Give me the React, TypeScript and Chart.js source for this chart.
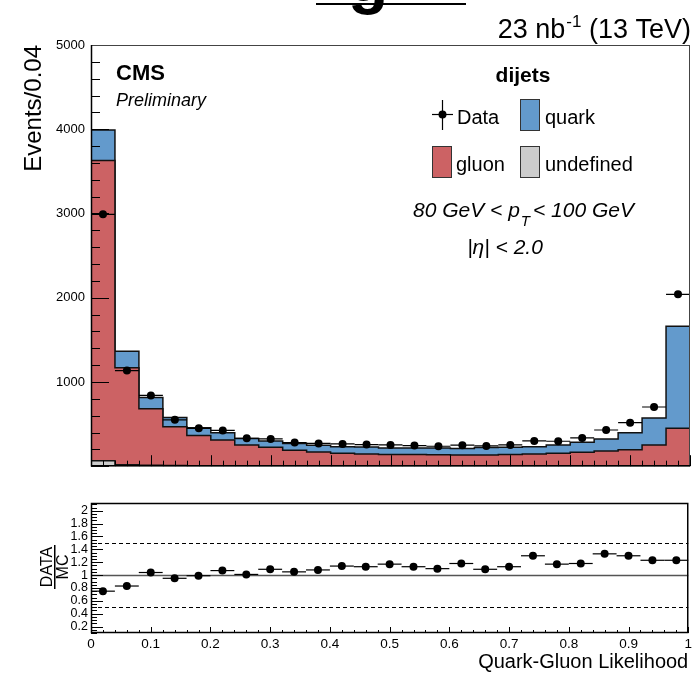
import React, { useEffect, useRef } from "react";
import { Chart, registerables } from "chart.js";
Chart.register(...registerables);

// ---- data ----
const binCenters = [0.02, 0.06, 0.10, 0.14, 0.18, 0.22, 0.26, 0.30, 0.34, 0.38, 0.42, 0.46, 0.50, 0.54, 0.58, 0.62, 0.66, 0.70, 0.74, 0.78, 0.82, 0.86, 0.90, 0.94, 0.98];
const binWidth = 0.04;
const dataCounts = [2990, 1135, 840, 550, 450, 425, 332, 324, 280, 270, 265, 257, 253, 245, 237, 249, 241, 253, 300, 296, 336, 430, 517, 703, 2040];
const undefinedCounts = [65, 18, 10, 8, 6, 5, 5, 4, 4, 4, 3, 3, 3, 3, 3, 3, 3, 3, 3, 3, 3, 3, 3, 3, 3];
const gluonCounts = [3565, 1152, 673, 460, 359, 305, 248, 221, 186, 166, 152, 142, 137, 135, 133, 131, 131, 135, 142, 151, 163, 177, 192, 250, 447];
const quarkCounts = [360, 195, 132, 110, 90, 88, 77, 75, 78, 80, 77, 82, 77, 78, 79, 77, 87, 86, 86, 99, 119, 143, 203, 318, 1210];
const ratioValues = [0.75, 0.83, 1.04, 0.95, 0.99, 1.07, 1.01, 1.09, 1.05, 1.08, 1.14, 1.13, 1.17, 1.13, 1.10, 1.18, 1.09, 1.13, 1.30, 1.17, 1.18, 1.33, 1.30, 1.23, 1.23];
const topYTicks = [1000, 2000, 3000, 4000, 5000];
const ratioYTicks = [0.2, 0.4, 0.6, 0.8, 1, 1.2, 1.4, 1.6, 1.8, 2];
const ratioYLabels = ["0.2", "0.4", "0.6", "0.8", "1", "1.2", "1.4", "1.6", "1.8", "2"];
const xTicks = [0, 0.1, 0.2, 0.3, 0.4, 0.5, 0.6, 0.7, 0.8, 0.9, 1];
const xLabels = ["0", "0.1", "0.2", "0.3", "0.4", "0.5", "0.6", "0.7", "0.8", "0.9", "1"];

const FONT = "'Liberation Sans', Arial, Helvetica, sans-serif";
const RED = "rgb(204,98,100)";
const BLUE = "rgb(99,154,204)";
const GRAY = "rgb(204,204,204)";

function stepPoints(vals: number[]) {
  const pts: { x: number; y: number }[] = [{ x: binCenters[0] - binWidth / 2, y: 0 }];
  vals.forEach((v, i) => {
    pts.push({ x: binCenters[i] - binWidth / 2, y: v });
    pts.push({ x: binCenters[i] + binWidth / 2, y: v });
  });
  pts.push({ x: binCenters[binCenters.length - 1] + binWidth / 2, y: 0 });
  return pts;
}

function drawText(ctx: any, text: string, x: number, y: number, font: string, align: string = "left") {
  ctx.font = font;
  ctx.textAlign = align;
  ctx.textBaseline = "alphabetic";
  ctx.fillStyle = "#000";
  ctx.fillText(text, x, y);
  return ctx.measureText(text).width;
}

export default function App() {
  const topRef = useRef<HTMLCanvasElement>(null);
  const botRef = useRef<HTMLCanvasElement>(null);

  useEffect(() => {
    const stackUnd = undefinedCounts.slice();
    const stackGlu = undefinedCounts.map((u, i) => u + gluonCounts[i]);
    const stackTot = stackGlu.map((g, i) => g + quarkCounts[i]);

    const topDecor = {
      id: "topDecor",
      afterDatasetsDraw(chart: any) {
        const { ctx, chartArea: a, scales } = chart;
        const x = scales.x, y = scales.y;
        ctx.save();
        ctx.beginPath();
        ctx.rect(a.left, a.top, a.right - a.left, a.bottom - a.top);
        ctx.clip();
        ctx.strokeStyle = "#000";
        ctx.lineWidth = 1.2;
        binCenters.forEach((c, i) => {
          const py = y.getPixelForValue(dataCounts[i]);
          ctx.beginPath();
          ctx.moveTo(x.getPixelForValue(c - binWidth / 2), py);
          ctx.lineTo(x.getPixelForValue(c + binWidth / 2), py);
          ctx.stroke();
        });
        ctx.restore();
      },
      afterDraw(chart: any) {
        const { ctx, chartArea: a, scales } = chart;
        const x = scales.x, y = scales.y;
        ctx.save();
        ctx.strokeStyle = "#000";
        ctx.lineWidth = 1;
        // ticks
        for (let k = 0; k <= 25; k++) {
          const py = Math.round(y.getPixelForValue(k * 200)) + 0.5;
          const len = k % 5 === 0 ? 18 : 9;
          ctx.beginPath(); ctx.moveTo(a.left, py); ctx.lineTo(a.left + len, py); ctx.stroke();
        }
        for (let k = 0; k <= 50; k++) {
          const px = Math.round(x.getPixelForValue(k * 0.02)) + 0.5;
          const len = k % 5 === 0 ? 11 : 5.5;
          ctx.beginPath(); ctx.moveTo(px, a.bottom); ctx.lineTo(px, a.bottom - len); ctx.stroke();
        }
        // frame
        ctx.strokeStyle = "#444";
        ctx.strokeRect(a.left + 0.5, a.top + 0.5, a.right - a.left - 1, a.bottom - a.top - 1);
        ctx.strokeStyle = "#000";
        ctx.lineWidth = 1.5;
        ctx.beginPath(); ctx.moveTo(a.left + 0.5, a.top); ctx.lineTo(a.left + 0.5, a.bottom - 0.5); ctx.lineTo(a.right, a.bottom - 0.5); ctx.stroke();

        // cut-off title fragment
        ctx.fillStyle = "#000";
        ctx.fillRect(316, 3, 150, 2);
        drawText(ctx, "g", 348, 1, `bold 66px ${FONT}`);

        // lumi (right aligned at 691)
        ctx.font = `27px ${FONT}`;
        const wa = ctx.measureText("23 nb").width;
        const wc = ctx.measureText(" (13 TeV)").width;
        ctx.font = `17px ${FONT}`;
        const wb = ctx.measureText("-1").width;
        const x0 = 691 - (wa + wb + wc + 1);
        drawText(ctx, "23 nb", x0, 38, `27px ${FONT}`);
        drawText(ctx, "-1", x0 + wa + 1, 27, `17px ${FONT}`);
        drawText(ctx, " (13 TeV)", x0 + wa + wb + 1, 38, `27px ${FONT}`);

        // CMS
        drawText(ctx, "CMS", 116, 80, `bold 22px ${FONT}`);
        drawText(ctx, "Preliminary", 116, 106, `italic 18px ${FONT}`);

        // legend
        drawText(ctx, "dijets", 523, 82, `bold 21px ${FONT}`, "center");
        ctx.strokeStyle = "#000"; ctx.lineWidth = 1.2;
        ctx.beginPath(); ctx.moveTo(432, 114.5); ctx.lineTo(453, 114.5); ctx.stroke();
        ctx.beginPath(); ctx.moveTo(442.5, 100); ctx.lineTo(442.5, 130); ctx.stroke();
        ctx.beginPath(); ctx.arc(442.5, 114.5, 4, 0, Math.PI * 2); ctx.fillStyle = "#000"; ctx.fill();
        drawText(ctx, "Data", 457, 124, `20px ${FONT}`);
        const box = (bx: number, by: number, col: string) => {
          ctx.fillStyle = col;
          ctx.fillRect(bx, by, 20, 32);
          ctx.strokeStyle = "#333"; ctx.lineWidth = 1;
          ctx.strokeRect(bx + 0.5, by + 0.5, 19, 31);
        };
        box(520, 99, BLUE);
        drawText(ctx, "quark", 545, 124, `20px ${FONT}`);
        box(432, 146, RED);
        drawText(ctx, "gluon", 456, 171, `20px ${FONT}`);
        box(520, 146, GRAY);
        drawText(ctx, "undefined", 545, 171, `20px ${FONT}`);

        // cuts
        const wp = drawText(ctx, "80 GeV < p", 413, 217, `italic 21px ${FONT}`);
        const wt = drawText(ctx, "T", 413 + wp + 1, 226, `italic 15px ${FONT}`);
        drawText(ctx, "< 100 GeV", 413 + wp + wt + 4, 217, `italic 21px ${FONT}`);
        drawText(ctx, "|η| < 2.0", 505, 254, `italic 21px ${FONT}`, "center");
        ctx.restore();
      },
    };

    const histLine = (vals: number[], color: string) => ({
      data: stepPoints(vals),
      borderColor: "#111",
      borderWidth: 1.5,
      backgroundColor: color,
      fill: "origin",
      pointRadius: 0,
      tension: 0,
    });

    const top = new Chart(topRef.current as HTMLCanvasElement, {
      type: "line",
      data: {
        datasets: [
          {
            label: "Data",
            data: binCenters.map((c, i) => ({ x: c, y: dataCounts[i] })),
            showLine: false,
            pointRadius: 4,
            pointBackgroundColor: "#000",
            pointBorderColor: "#000",
            pointBorderWidth: 0,
          } as any,
          { label: "undefined", ...histLine(stackUnd, GRAY) },
          { label: "gluon", ...histLine(stackGlu, RED) },
          { label: "quark", ...histLine(stackTot, BLUE) },
        ],
      },
      options: {
        animation: false,
        responsive: false,
        events: [],
        layout: { padding: { left: 0, right: 5, top: 45, bottom: 13 } },
        plugins: { legend: { display: false }, tooltip: { enabled: false } },
        scales: {
          x: { type: "linear", min: 0, max: 1, display: false },
          y: {
            type: "linear",
            min: 0,
            max: 5000,
            afterBuildTicks: (s: any) => { s.ticks = topYTicks.map((v) => ({ value: v })); },
            afterFit: (s: any) => { s.width = 91; },
            grid: { display: false, drawTicks: false },
            border: { display: false },
            ticks: { color: "#000", font: { family: FONT, size: 13 }, padding: 6, autoSkip: false, callback: (v: any) => String(v) },
            title: { display: true, text: "Events/0.04", align: "end", color: "#000", font: { family: FONT, size: 24 }, padding: { top: 20, bottom: 0 } },
          },
        },
      } as any,
      plugins: [topDecor],
    });

    const botDecor = {
      id: "botDecor",
      afterDatasetsDraw(chart: any) {
        const { ctx, scales } = chart;
        const x = scales.x, y = scales.y;
        ctx.save();
        ctx.strokeStyle = "#000";
        ctx.lineWidth = 1.2;
        binCenters.forEach((c, i) => {
          const py = y.getPixelForValue(ratioValues[i]);
          ctx.beginPath();
          ctx.moveTo(x.getPixelForValue(c - binWidth / 2), py);
          ctx.lineTo(x.getPixelForValue(c + binWidth / 2), py);
          ctx.stroke();
        });
        ctx.restore();
      },
      beforeDatasetsDraw(chart: any) {
        const { ctx, chartArea: a, scales } = chart;
        const y = scales.y;
        ctx.save();
        const p1 = Math.round(y.getPixelForValue(1)) + 0.5;
        ctx.strokeStyle = "#555"; ctx.lineWidth = 1.5;
        ctx.beginPath(); ctx.moveTo(a.left, p1); ctx.lineTo(a.right, p1); ctx.stroke();
        ctx.strokeStyle = "#000"; ctx.lineWidth = 1; ctx.setLineDash([4, 3]);
        [1.5, 0.5].forEach((v) => {
          const p = Math.round(y.getPixelForValue(v)) + 0.5;
          ctx.beginPath(); ctx.moveTo(a.left, p); ctx.lineTo(a.right, p); ctx.stroke();
        });
        ctx.restore();
      },
      afterDraw(chart: any) {
        const { ctx, chartArea: a, scales } = chart;
        const x = scales.x, y = scales.y;
        ctx.save();
        ctx.strokeStyle = "#000"; ctx.lineWidth = 1;
        for (let k = 0; k <= 40; k++) {
          const v = 0.1 + k * 0.05;
          if (v > 2.12) break;
          const py = Math.round(y.getPixelForValue(v)) + 0.5;
          const len = (k + 2) % 4 === 0 ? 12 : 6;
          ctx.beginPath(); ctx.moveTo(a.left, py); ctx.lineTo(a.left + len, py); ctx.stroke();
        }
        for (let k = 0; k <= 50; k++) {
          const px = Math.round(x.getPixelForValue(k * 0.02)) + 0.5;
          const len = k % 5 === 0 ? 6 : 3;
          ctx.beginPath(); ctx.moveTo(px, a.bottom); ctx.lineTo(px, a.bottom - len); ctx.stroke();
        }
        ctx.lineWidth = 1.5;
        ctx.strokeRect(a.left + 0.5, a.top + 0.5, a.right - a.left - 1, a.bottom - a.top - 1);

        // DATA / MC fraction title
        const cy = 567 - 480;
        ctx.save(); ctx.translate(52, cy); ctx.rotate(-Math.PI / 2);
        drawText(ctx, "DATA", 0, 0, `16px ${FONT}`, "center");
        ctx.restore();
        ctx.save(); ctx.translate(68, cy); ctx.rotate(-Math.PI / 2);
        drawText(ctx, "MC", 0, 0, `16px ${FONT}`, "center");
        ctx.restore();
        ctx.fillStyle = "#000";
        ctx.fillRect(54, cy - 22, 1.5, 44);
        ctx.restore();
      },
    };

    const bot = new Chart(botRef.current as HTMLCanvasElement, {
      type: "line",
      data: {
        datasets: [
          {
            label: "ratio",
            data: binCenters.map((c, i) => ({ x: c, y: ratioValues[i] })),
            showLine: false,
            pointRadius: 4,
            pointBackgroundColor: "#000",
            pointBorderColor: "#000",
            pointBorderWidth: 0,
          } as any,
        ],
      },
      options: {
        animation: false,
        responsive: false,
        events: [],
        layout: { padding: { left: 0, right: 5, top: 23, bottom: 0 } },
        plugins: { legend: { display: false }, tooltip: { enabled: false } },
        scales: {
          x: {
            type: "linear",
            min: 0,
            max: 1,
            afterBuildTicks: (s: any) => { s.ticks = xTicks.map((v) => ({ value: v })); },
            afterFit: (s: any) => { s.height = 45; },
            grid: { display: false, drawTicks: false },
            border: { display: false },
            ticks: { color: "#000", font: { family: FONT, size: 13.5 }, padding: 3, autoSkip: false, maxRotation: 0, callback: (v: any, i: number) => xLabels[i] },
            title: { display: true, text: "Quark-Gluon Likelihood", align: "end", color: "#000", font: { family: FONT, size: 20 }, padding: { top: 0, bottom: 4 } },
          },
          y: {
            type: "linear",
            min: 0.1,
            max: 2.12,
            afterBuildTicks: (s: any) => { s.ticks = ratioYTicks.map((v) => ({ value: v })); },
            afterFit: (s: any) => { s.width = 91; },
            grid: { display: false, drawTicks: false },
            border: { display: false },
            ticks: { color: "#000", font: { family: FONT, size: 12.5 }, padding: 3, autoSkip: false, callback: (v: any, i: number) => ratioYLabels[i] },
          },
        },
      } as any,
      plugins: [botDecor],
    });

    return () => {
      top.destroy();
      bot.destroy();
    };
  }, []);

  return (
    <div style={{ position: "absolute", left: 0, top: 0, width: 695, height: 678, background: "#fff" }}>
      <canvas ref={topRef} width={695} height={480} style={{ position: "absolute", left: 0, top: 0, width: 695, height: 480 }} />
      <canvas ref={botRef} width={695} height={198} style={{ position: "absolute", left: 0, top: 480, width: 695, height: 198 }} />
    </div>
  );
}
